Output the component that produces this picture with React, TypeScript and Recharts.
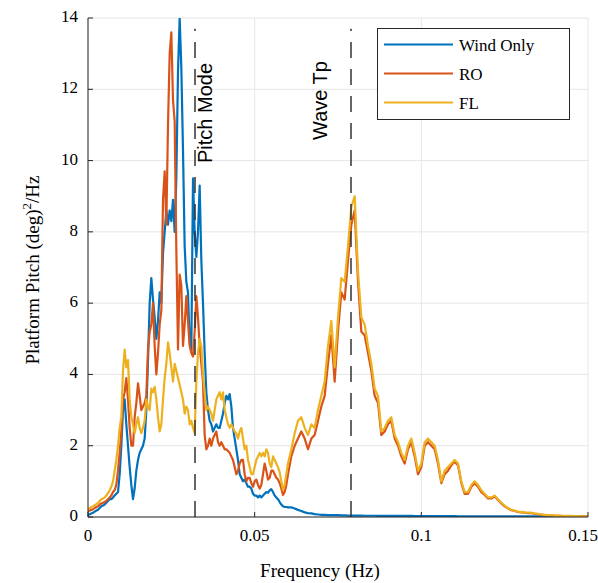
import React from 'react';
import { LineChart, Line, XAxis, YAxis, CartesianGrid, ReferenceLine } from 'recharts';

const freqHz = [
  0, 0.0005, 0.001, 0.0015, 0.002, 0.0025, 0.003, 0.0035, 0.004, 0.0045,
  0.005, 0.0055, 0.006, 0.0065, 0.007, 0.0075, 0.008, 0.0085, 0.009, 0.0095,
  0.01, 0.0105, 0.011, 0.0115, 0.012, 0.0125, 0.013, 0.0135, 0.014, 0.0145,
  0.015, 0.0155, 0.016, 0.0165, 0.017, 0.0175, 0.018, 0.0185, 0.019, 0.0195,
  0.02, 0.0205, 0.021, 0.0215, 0.022, 0.0225, 0.023, 0.0235, 0.024, 0.0245,
  0.025, 0.0255, 0.026, 0.0265, 0.027, 0.0275, 0.028, 0.0285, 0.029, 0.0295,
  0.03, 0.0305, 0.031, 0.0315, 0.032, 0.0325, 0.033, 0.0335, 0.034, 0.0345,
  0.035, 0.0355, 0.036, 0.0365, 0.037, 0.0375, 0.038, 0.0385, 0.039, 0.0395,
  0.04, 0.0405, 0.041, 0.0415, 0.042, 0.0425, 0.043, 0.0435, 0.044, 0.0445,
  0.045, 0.0455, 0.046, 0.0465, 0.047, 0.0475, 0.048, 0.0485, 0.049, 0.0495,
  0.05, 0.0505, 0.051, 0.0515, 0.052, 0.0525, 0.053, 0.0535, 0.054, 0.0545,
  0.055, 0.0555, 0.056, 0.0565, 0.057, 0.0575, 0.058, 0.0585, 0.059, 0.0595,
  0.06,
  0.061, 0.062, 0.063, 0.064, 0.065, 0.066, 0.067, 0.068, 0.069, 0.07,
  0.071, 0.072, 0.073, 0.074, 0.075, 0.076, 0.077, 0.078, 0.079, 0.08,
  0.081, 0.082, 0.083, 0.084, 0.085, 0.086, 0.087, 0.088, 0.089, 0.09,
  0.091, 0.092, 0.093, 0.094, 0.095, 0.096, 0.097, 0.098, 0.099, 0.1,
  0.101, 0.102, 0.103, 0.104, 0.105, 0.106, 0.107, 0.108, 0.109, 0.11,
  0.111, 0.112, 0.113, 0.114, 0.115, 0.116, 0.117, 0.118, 0.119, 0.12,
  0.121, 0.122, 0.123, 0.124, 0.125, 0.126, 0.127, 0.128, 0.129, 0.13,
  0.131, 0.132, 0.133, 0.134, 0.135, 0.136, 0.137, 0.138, 0.139, 0.14,
  0.141, 0.142, 0.143, 0.144, 0.145, 0.146, 0.147, 0.148, 0.149, 0.15,
];

const windOnly = [
  0.05, 0.08, 0.1, 0.12, 0.15, 0.18, 0.2, 0.25, 0.3, 0.32,
  0.35, 0.4, 0.45, 0.5, 0.5, 0.55, 0.6, 0.65, 0.7, 1.2,
  2.0, 3.0, 3.3, 2.6, 2.0, 1.4, 0.9, 0.5, 0.8, 1.3,
  1.6, 1.8, 1.9, 2.0, 2.2, 3.0, 4.4, 6.0, 6.7, 6.1,
  5.6, 5.0, 5.5, 6.3, 6.0, 7.4, 8.0, 8.6, 8.2, 8.6,
  8.3, 8.9, 8.0, 9.5, 12.5, 14.0, 12.6, 10.3, 7.6, 6.6,
  6.3, 4.9, 4.7, 9.5, 8.0, 7.3, 8.0, 9.3, 7.2, 6.0,
  4.6, 3.5, 3.0, 2.7, 2.6, 2.4, 2.5, 2.6, 2.5, 2.5,
  2.7, 2.9, 3.2, 3.4, 3.3, 3.45, 3.1, 2.5, 2.2, 1.9,
  1.6, 1.2, 1.1, 1.0, 1.05, 0.95, 0.85, 0.85, 0.8, 0.65,
  0.6, 0.6, 0.55, 0.6, 0.55, 0.6, 0.65, 0.7, 0.68, 0.75,
  0.78, 0.7, 0.6, 0.55, 0.5, 0.42, 0.35, 0.3, 0.28, 0.28,
  0.27,
  0.27, 0.24, 0.2, 0.17, 0.13, 0.11, 0.1, 0.08, 0.07, 0.06,
  0.06, 0.055, 0.05, 0.05, 0.05, 0.045, 0.045, 0.04, 0.04, 0.04,
  0.04, 0.04, 0.035, 0.035, 0.035, 0.035, 0.03, 0.03, 0.03, 0.03,
  0.03, 0.03, 0.03, 0.03, 0.03, 0.03, 0.03, 0.025, 0.025, 0.025,
  0.025, 0.025, 0.025, 0.025, 0.025, 0.025, 0.025, 0.025, 0.025, 0.025,
  0.02, 0.02, 0.02, 0.02, 0.02, 0.02, 0.02, 0.02, 0.02, 0.02,
  0.02, 0.02, 0.02, 0.02, 0.02, 0.02, 0.02, 0.02, 0.02, 0.02,
  0.015, 0.015, 0.015, 0.015, 0.015, 0.015, 0.015, 0.015, 0.015, 0.015,
  0.015, 0.015, 0.015, 0.015, 0.015, 0.015, 0.015, 0.015, 0.015, 0.015,
];

const ro = [
  0.15, 0.18, 0.2, 0.22, 0.25, 0.28, 0.3, 0.35, 0.38, 0.4,
  0.42, 0.45, 0.5, 0.55, 0.6, 0.7, 0.75, 0.9, 1.3, 1.8,
  2.4, 3.3, 3.5, 3.9, 3.3, 2.5, 2.0, 2.0, 2.8, 3.2,
  3.75, 3.4, 3.0, 3.1, 3.2, 3.4, 4.7, 5.2, 5.4, 6.0,
  4.8, 4.0, 4.6, 5.4, 5.8, 8.9, 9.7, 8.2, 11.0, 13.0,
  13.6, 11.7, 11.1, 7.5, 4.7, 6.8, 6.5, 4.8, 5.4, 6.2,
  5.5, 4.8, 4.6, 4.5, 5.2, 6.2, 5.6, 4.8, 4.3, 3.8,
  2.3, 1.9, 2.0, 2.2, 2.0, 2.2, 2.3, 2.4, 2.1, 2.0,
  2.1, 2.0, 1.9, 1.9, 1.85, 1.8, 1.7, 1.6, 1.4, 1.2,
  1.3, 1.5, 1.6, 1.6, 1.2, 1.0, 1.1, 1.1, 0.95, 0.85,
  1.0, 1.05, 0.9, 0.8, 0.9, 1.2, 1.5, 1.3, 1.05, 1.1,
  1.3, 1.3, 1.2, 1.1, 1.05, 0.95, 0.8, 0.62, 0.7, 0.9,
  1.2,
  1.7, 2.0, 2.2, 2.4, 2.2, 1.9, 2.2, 2.3, 2.7, 3.1,
  3.4, 4.3, 5.1, 3.8, 5.2, 6.3, 6.1, 7.2, 8.2, 8.6,
  6.6, 5.2, 5.1, 4.6, 4.1, 3.4, 3.2, 2.3, 2.4, 2.6,
  2.7, 2.2, 2.0, 1.7, 1.5, 1.9, 2.1, 1.7, 1.2, 1.4,
  2.0, 2.1, 2.0, 1.9, 1.5, 0.95, 1.2, 1.3, 1.45, 1.55,
  1.45, 0.95, 0.65, 0.65, 0.85, 0.95, 0.85, 0.7, 0.62, 0.52,
  0.52, 0.58, 0.48, 0.38, 0.3, 0.24, 0.19, 0.17, 0.14, 0.13,
  0.12, 0.11, 0.11, 0.09, 0.08, 0.065, 0.055, 0.045, 0.045, 0.035,
  0.035, 0.03, 0.028, 0.028, 0.025, 0.022, 0.022, 0.018, 0.018, 0.018,
];

const fl = [
  0.2, 0.25, 0.28, 0.3, 0.33, 0.36, 0.4, 0.45, 0.5, 0.52,
  0.55, 0.6, 0.67, 0.75, 0.85, 1.0, 1.3, 1.6, 2.0, 2.5,
  2.8, 4.1, 4.7, 4.2, 4.4, 3.3, 2.8, 2.6, 2.35, 2.6,
  2.8, 2.5, 2.35, 2.5, 2.7, 3.3, 3.1, 3.0, 3.6, 3.5,
  3.65, 3.3, 2.8, 2.4, 2.6, 3.3, 3.9, 4.3, 4.9, 4.6,
  4.2, 3.8, 4.3, 4.1, 3.9, 3.7, 3.5, 3.3, 2.9, 3.1,
  3.0, 2.6, 2.7, 2.5, 2.35, 3.8, 4.6, 5.0, 4.8, 4.0,
  3.5, 3.0, 3.1, 3.0, 2.9, 2.7, 3.0, 3.3, 3.4, 3.5,
  3.3, 3.5, 3.0, 2.8, 2.6, 2.5, 2.6, 2.5, 2.4, 2.35,
  2.2, 2.4, 2.5, 2.2, 1.9, 2.0, 1.6, 1.4, 1.2, 1.2,
  1.4, 1.6, 1.7, 1.8, 1.7, 1.8, 1.7, 1.9, 1.8, 1.5,
  1.4, 1.7, 1.6, 1.5, 1.4, 1.25, 1.0, 0.76, 0.9, 1.2,
  1.5,
  1.9, 2.35, 2.7, 2.8, 2.5, 2.3, 2.6, 2.5, 3.0, 3.4,
  3.8, 4.8, 5.5, 4.2, 5.6, 6.7, 6.6, 7.6, 8.7, 9.0,
  6.9, 5.6, 5.4, 4.8, 4.3, 3.6, 3.4, 2.4, 2.5, 2.7,
  2.8, 2.3, 2.1, 1.8, 1.6, 2.0, 2.2, 1.8, 1.3, 1.5,
  2.1, 2.2, 2.1, 2.0, 1.6, 1.0, 1.3, 1.4, 1.5, 1.6,
  1.5, 1.0, 0.7, 0.7, 0.9, 1.0, 0.9, 0.75, 0.65, 0.55,
  0.55, 0.6, 0.5, 0.4, 0.32, 0.25, 0.2, 0.18, 0.15, 0.14,
  0.13, 0.12, 0.12, 0.1, 0.09, 0.07, 0.06, 0.05, 0.05, 0.04,
  0.04, 0.035, 0.03, 0.03, 0.03, 0.025, 0.025, 0.02, 0.02, 0.02,
];

const seriesKeys = ['wind', 'ro', 'fl'];
const seriesNames = ['Wind Only', 'RO', 'FL'];
const seriesColors = ['#0072BD', '#D95319', '#EDB120'];

const xTicks = [0, 0.05, 0.1, 0.15];
const yTicks = [0, 2, 4, 6, 8, 10, 12, 14];

const pitchModeHz = 0.0321;
const waveTpHz = 0.0789;
const markerTop = 13.7;

const data = freqHz.map((f, i) => ({ f, wind: windOnly[i], ro: ro[i], fl: fl[i] }));

const SERIF = '"Liberation Serif", "Times New Roman", serif';
const SANS = '"Liberation Sans", Arial, sans-serif';
const AXIS = '#262626';
const GRID = '#e6e6e6';
const TICK_FS = 17;

const BottomTick = (p: any) => {
  const last = p.payload.value === xTicks[xTicks.length - 1];
  return (
    <g>
      <line x1={p.x} x2={p.x} y1={p.y} y2={p.y - 5} stroke={AXIS} strokeWidth={1} />
      <text
        x={last ? p.x + 10 : p.x}
        y={p.y + 24}
        textAnchor={last ? 'end' : 'middle'}
        fontFamily={SERIF}
        fontSize={TICK_FS}
        fill="#000"
      >
        {String(p.payload.value)}
      </text>
    </g>
  );
};
const TopTick = (p: any) => (
  <line x1={p.x} x2={p.x} y1={p.y} y2={p.y + 5} stroke={AXIS} strokeWidth={1} />
);
const LeftTick = (p: any) => (
  <g>
    <line x1={p.x} x2={p.x + 5} y1={p.y} y2={p.y} stroke={AXIS} strokeWidth={1} />
    <text x={p.x - 10} y={p.y + 4} textAnchor="end" fontFamily={SERIF} fontSize={TICK_FS} fill="#000">
      {String(p.payload.value)}
    </text>
  </g>
);
const RightTick = (p: any) => (
  <line x1={p.x} x2={p.x - 5} y1={p.y} y2={p.y} stroke={AXIS} strokeWidth={1} />
);

const YLabel = () => (
  <text x={39} y={270} transform="rotate(-90 39 270)" textAnchor="middle" fontFamily={SERIF} fontSize={19} fill="#000">
    Platform Pitch (deg)
    <tspan dy={-8} fontSize={13}>2</tspan>
    <tspan dy={8}>/Hz</tspan>
  </text>
);
const XLabel = () => (
  <text x={320} y={577} textAnchor="middle" fontFamily={SERIF} fontSize={19} fill="#000">
    Frequency (Hz)
  </text>
);

const markerLabel = (text: string, dx: number, bottomY: number) => (props: any) => {
  const vb = props.viewBox || {};
  const bx = (vb.x || 0) + dx;
  return (
    <text x={bx} y={bottomY} transform={`rotate(-90 ${bx} ${bottomY})`} textAnchor="start" fontFamily={SANS} fontSize={20} fill="#000">
      {text}
    </text>
  );
};

export default function App() {
  return (
    <div style={{ position: 'absolute', left: 0, top: 0, width: 598, height: 583, background: '#fff' }}>
      <LineChart width={598} height={583} data={data} margin={{ top: 18, right: 10, bottom: 0, left: 0 }}>
        <CartesianGrid stroke={GRID} strokeWidth={1} />
        <XAxis
          dataKey="f"
          type="number"
          domain={[0, 0.15]}
          ticks={xTicks}
          interval={0}
          height={66}
          tickSize={0}
          tickMargin={0}
          tick={BottomTick}
          tickLine={false}
          axisLine={{ stroke: AXIS, strokeWidth: 1 }}
          allowDataOverflow
          label={{ content: XLabel }}
        />
        <XAxis
          xAxisId="top"
          orientation="top"
          type="number"
          domain={[0, 0.15]}
          ticks={xTicks}
          interval={0}
          height={0}
          tickSize={0}
          tickMargin={0}
          tick={TopTick}
          tickLine={false}
          axisLine={{ stroke: AXIS, strokeWidth: 1 }}
        />
        <YAxis
          type="number"
          domain={[0, 14]}
          ticks={yTicks}
          interval={0}
          width={88}
          tickSize={0}
          tickMargin={0}
          tick={LeftTick}
          tickLine={false}
          axisLine={{ stroke: AXIS, strokeWidth: 1 }}
          allowDataOverflow
          label={{ content: YLabel }}
        />
        <YAxis
          yAxisId="right"
          orientation="right"
          type="number"
          domain={[0, 14]}
          ticks={yTicks}
          interval={0}
          width={0}
          tickSize={0}
          tickMargin={0}
          tick={RightTick}
          tickLine={false}
          axisLine={{ stroke: AXIS, strokeWidth: 1 }}
        />
        {seriesKeys.map((k, i) => (
          <Line
            key={k}
            dataKey={k}
            name={seriesNames[i]}
            stroke={seriesColors[i]}
            strokeWidth={2.2}
            strokeLinejoin="round"
            dot={false}
            activeDot={false}
            type="linear"
            isAnimationActive={false}
          />
        ))}
        <ReferenceLine
          segment={[{ x: pitchModeHz, y: 0 }, { x: pitchModeHz, y: markerTop }]}
          stroke="#333"
          strokeWidth={1.5}
          strokeDasharray="16 11"
          label={{ content: markerLabel('Pitch Mode', 17, 163) }}
        />
        <ReferenceLine
          segment={[{ x: waveTpHz, y: 0 }, { x: waveTpHz, y: markerTop }]}
          stroke="#333"
          strokeWidth={1.5}
          strokeDasharray="16 11"
          label={{ content: markerLabel('Wave Tp', -24, 140) }}
        />
      </LineChart>
      <div
        style={{
          position: 'absolute',
          left: 377,
          top: 28,
          width: 193,
          height: 92,
          border: `1px solid ${AXIS}`,
          background: '#fff',
          boxSizing: 'border-box',
        }}
      >
        <svg width={191} height={90} style={{ display: 'block' }}>
          {seriesNames.map((n, i) => (
            <g key={n}>
              <line x1={6} x2={75} y1={15.5 + i * 29} y2={15.5 + i * 29} stroke={seriesColors[i]} strokeWidth={2.2} />
              <text x={81} y={21.5 + i * 29} fontFamily={SERIF} fontSize={17} fill="#000">
                {n}
              </text>
            </g>
          ))}
        </svg>
      </div>
    </div>
  );
}
